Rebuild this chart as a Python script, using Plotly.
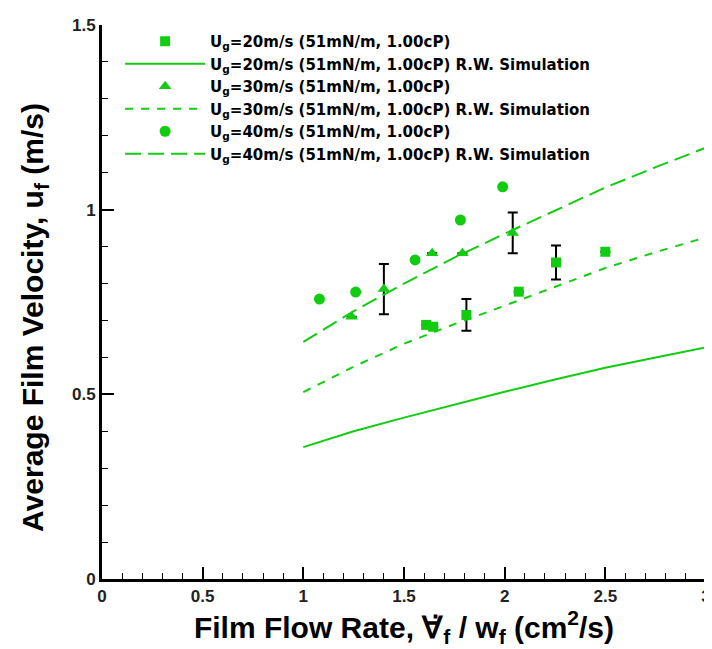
import plotly.graph_objects as go

# ---- data ----
sim_x = [1.0, 1.25, 1.5, 1.75, 2.0, 2.25, 2.5, 2.75, 3.0]
sim20 = [0.357, 0.400, 0.437, 0.473, 0.507, 0.540, 0.572, 0.600, 0.627]
sim30 = [0.506, 0.575, 0.637, 0.690, 0.740, 0.790, 0.842, 0.885, 0.925]
sim40 = [0.642, 0.725, 0.800, 0.870, 0.935, 0.998, 1.060, 1.115, 1.168]

exp20_x = [1.61, 1.645, 1.81, 2.07, 2.255, 2.50]
exp20_y = [0.688, 0.683, 0.715, 0.778, 0.857, 0.886]
exp20_err = [None, None, 0.043, None, 0.046, None]

exp30_x = [1.24, 1.40, 1.64, 1.79, 2.04]
exp30_y = [0.710, 0.785, 0.882, 0.882, 0.937]
exp30_err = [None, 0.068, None, None, 0.055]

exp40_x = [1.08, 1.26, 1.555, 1.78, 1.99]
exp40_y = [0.758, 0.777, 0.864, 0.972, 1.062]

names = [
    "U<sub>g</sub>=20m/s (51mN/m, 1.00cP)",
    "U<sub>g</sub>=20m/s (51mN/m, 1.00cP) R.W. Simulation",
    "U<sub>g</sub>=30m/s (51mN/m, 1.00cP)",
    "U<sub>g</sub>=30m/s (51mN/m, 1.00cP) R.W. Simulation",
    "U<sub>g</sub>=40m/s (51mN/m, 1.00cP)",
    "U<sub>g</sub>=40m/s (51mN/m, 1.00cP) R.W. Simulation",
]

x_tick_vals = [0, 0.5, 1, 1.5, 2, 2.5, 3]
y_tick_vals = [0, 0.5, 1, 1.5]

x_title = "<b>Film Flow Rate, ∀̇<sub>f</sub> / w<sub>f</sub> (cm<sup>2</sup>/s)</b>"
y_title = "<b>Average Film Velocity, u<sub>f</sub> (m/s)</b>"

GREEN = "#11cc11"
FONT = "Liberation Sans, Arial, sans-serif"

fig = go.Figure()

fig.add_trace(go.Scatter(x=exp20_x, y=exp20_y, mode="markers", name=names[0],
                         marker=dict(symbol="square", size=10, color=GREEN),
                         error_y=dict(type="data", array=exp20_err, color="black",
                                      thickness=2, width=5, visible=True)))
fig.add_trace(go.Scatter(x=sim_x, y=sim20, mode="lines", name=names[1],
                         line=dict(color=GREEN, width=2, dash="solid")))
fig.add_trace(go.Scatter(x=exp30_x, y=exp30_y, mode="markers", name=names[2],
                         marker=dict(symbol="triangle-up", size=11, color=GREEN),
                         error_y=dict(type="data", array=exp30_err, color="black",
                                      thickness=2, width=5, visible=True)))
fig.add_trace(go.Scatter(x=sim_x, y=sim30, mode="lines", name=names[3],
                         line=dict(color=GREEN, width=2, dash="8px,8px")))
fig.add_trace(go.Scatter(x=exp40_x, y=exp40_y, mode="markers", name=names[4],
                         marker=dict(symbol="circle", size=11, color=GREEN)))
fig.add_trace(go.Scatter(x=sim_x, y=sim40, mode="lines", name=names[5],
                         line=dict(color=GREEN, width=2, dash="16px,7px")))

axis_common = dict(
    showline=True, linecolor="black", linewidth=3,
    ticks="inside", ticklen=12, tickwidth=2, tickcolor="black",
    showgrid=False, zeroline=False,
    tickfont=dict(family=FONT, size=17, color="#222", weight="bold"),
    minor=dict(ticks="inside", ticklen=6, tickwidth=1, tickcolor="black", dtick=0.1),
)

fig.update_xaxes(range=[0, 3], tickvals=x_tick_vals,
                 ticktext=[f"{v:g}" for v in x_tick_vals],
                 title=dict(text=x_title,
                            font=dict(family=FONT, size=30, color="black"), standoff=3),
                 **axis_common)
fig.update_yaxes(range=[0, 1.5], tickvals=y_tick_vals,
                 ticktext=[f"{v:g}" for v in y_tick_vals],
                 **axis_common)

# y-axis title placed as a rotated annotation to match the reference position
fig.add_annotation(text=y_title, xref="paper", yref="paper",
                   x=-0.111, y=0.473, xanchor="center", yanchor="middle",
                   textangle=-90, showarrow=False,
                   font=dict(family=FONT, size=30, color="black"))

# the page body has an 8px margin, so the figure is sized to fit the window
fig.update_layout(
    width=704, height=641,
    margin=dict(l=94, r=6, t=17, b=70, autoexpand=False),
    paper_bgcolor="white", plot_bgcolor="white",
    showlegend=True,
    legend=dict(x=0.03, y=1.0, xanchor="left", yanchor="top",
                bgcolor="rgba(255,255,255,0)", borderwidth=0,
                font=dict(family="DejaVu Sans, sans-serif", size=15, color="black", weight="bold"),
                itemwidth=80, tracegroupgap=0),
)

fig.write_html("out.html")
